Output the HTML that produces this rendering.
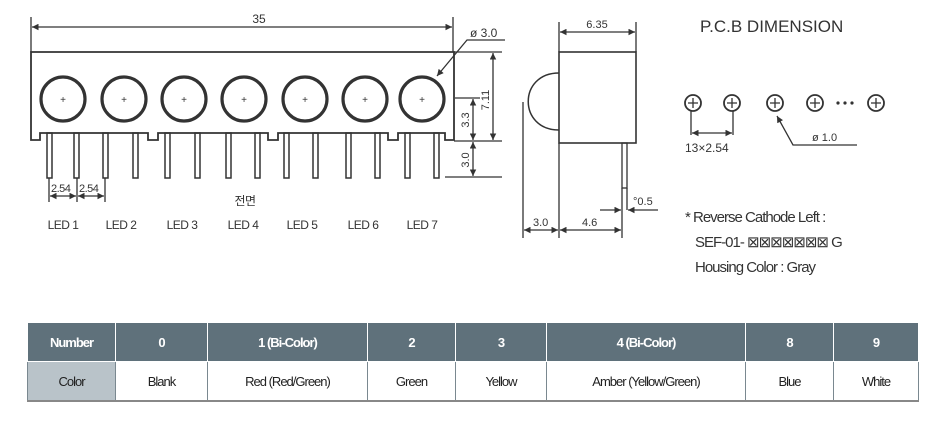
<!DOCTYPE html>
<html><head><meta charset="utf-8"><style>
body{margin:0;background:#fff;width:946px;height:423px;overflow:hidden;font-family:"Liberation Sans","Noto Sans CJK KR",sans-serif}
svg{position:absolute;left:0;top:0}
table{position:absolute;left:27px;top:322px;border-collapse:collapse;font-family:"Liberation Sans",sans-serif;font-size:13px;letter-spacing:-1px}
td{border:1px solid #fff;text-align:center;padding:0;height:38px}
tr.h td{background:#5f717b;color:#fff;border-color:#fff;font-weight:bold}
tr.r td{background:#fff;color:#222;border:1px solid #7a8890;border-bottom:2px solid #888}
tr.r td.c{background:#b9c3c9}
</style></head><body>
<svg width="946" height="423" viewBox="0 0 946 423" fill="none" stroke="#333" stroke-width="1.3" font-family="Liberation Sans, sans-serif">
<defs><marker id="a" viewBox="0 0 10 10" refX="10" refY="5" markerWidth="7" markerHeight="5" orient="auto-start-reverse"><path d="M0,0L10,5L0,10z" fill="#333" stroke="none"/></marker></defs>
<path d="M31,52H454V140H445V133H398V140H388V133H278V140H268V133H158V140H148V133H40V140H31Z" stroke-width="1.8"/>
<g stroke-width="3.2">
<circle cx="63" cy="99" r="22"/><circle cx="124" cy="99" r="22"/><circle cx="184" cy="99" r="22"/><circle cx="244" cy="99" r="22"/><circle cx="305" cy="99" r="22"/><circle cx="365" cy="99" r="22"/><circle cx="422" cy="99" r="22"/>
</g>
<g font-size="10" fill="#333" stroke="none" text-anchor="middle">
<text x="63" y="103">+</text><text x="124" y="103">+</text><text x="184" y="103">+</text><text x="244" y="103">+</text><text x="305" y="103">+</text><text x="365" y="103">+</text><text x="422" y="103">+</text>
</g>
<g stroke-width="1.5">
<rect x="47" y="133" width="5" height="45"/><rect x="74" y="133" width="5" height="45"/>
<rect x="103" y="133" width="5" height="45"/><rect x="133" y="133" width="5" height="45"/>
<rect x="165" y="133" width="5" height="45"/><rect x="195" y="133" width="5" height="45"/>
<rect x="226" y="133" width="5" height="45"/><rect x="255" y="133" width="5" height="45"/>
<rect x="284" y="133" width="5" height="45"/><rect x="313" y="133" width="5" height="45"/>
<rect x="346" y="133" width="5" height="45"/><rect x="375" y="133" width="5" height="45"/>
<rect x="405" y="133" width="5" height="45"/><rect x="434" y="133" width="5" height="45"/>
</g>
<line x1="31" y1="17" x2="31" y2="52"/><line x1="453" y1="17" x2="453" y2="52"/>
<line x1="32" y1="27" x2="452" y2="27" marker-start="url(#a)" marker-end="url(#a)"/>
<text x="259" y="23" font-size="12" fill="#333" stroke="none" text-anchor="middle">35</text>
<text x="470" y="37" font-size="12" fill="#333" stroke="none">ø 3.0</text>
<polyline points="505,40 467,40 437,76" marker-end="url(#a)"/>
<line x1="454" y1="52" x2="502" y2="52"/><line x1="454" y1="141" x2="502" y2="141"/>
<line x1="455" y1="98" x2="480" y2="98"/><line x1="445" y1="177" x2="502" y2="177"/>
<line x1="493" y1="53" x2="493" y2="140" marker-start="url(#a)" marker-end="url(#a)"/>
<line x1="473" y1="99" x2="473" y2="140" marker-start="url(#a)" marker-end="url(#a)"/>
<line x1="473" y1="142" x2="473" y2="176" marker-start="url(#a)" marker-end="url(#a)"/>
<g font-size="11" fill="#333" stroke="none">
<text transform="translate(489,100) rotate(-90)" text-anchor="middle">7.11</text>
<text transform="translate(469,120) rotate(-90)" text-anchor="middle">3.3</text>
<text transform="translate(469,160) rotate(-90)" text-anchor="middle">3.0</text>
</g>
<line x1="49" y1="178" x2="49" y2="202"/><line x1="77" y1="178" x2="77" y2="202"/><line x1="105" y1="178" x2="105" y2="202"/>
<line x1="50" y1="196" x2="76" y2="196" marker-start="url(#a)" marker-end="url(#a)"/>
<line x1="78" y1="196" x2="104" y2="196" marker-start="url(#a)" marker-end="url(#a)"/>
<g font-size="11" fill="#333" stroke="none" letter-spacing="-0.5">
<text x="51" y="192">2.54</text><text x="79" y="192">2.54</text>
<text x="245" y="205" font-size="12" text-anchor="middle">전면</text>
</g>
<g font-size="12" fill="#333" stroke="none" text-anchor="middle" letter-spacing="-0.5">
<text x="63" y="229">LED 1</text><text x="121" y="229">LED 2</text><text x="182" y="229">LED 3</text><text x="243" y="229">LED 4</text><text x="302" y="229">LED 5</text><text x="363" y="229">LED 6</text><text x="422" y="229">LED 7</text>
</g>
<rect x="559" y="52" width="77" height="91" stroke-width="1.6"/>
<path d="M559,73 C518,73 518,130 559,130" stroke-width="1.5"/>
<rect x="622" y="143" width="5" height="45"/>
<line x1="622" y1="188" x2="622" y2="238"/><line x1="627" y1="188" x2="627" y2="210"/>
<line x1="559" y1="22" x2="559" y2="52"/><line x1="636" y1="22" x2="636" y2="52"/>
<line x1="560" y1="32" x2="635" y2="32" marker-start="url(#a)" marker-end="url(#a)"/>
<text x="597" y="28" font-size="11" fill="#333" stroke="none" text-anchor="middle">6.35</text>
<line x1="523" y1="102" x2="523" y2="238"/><line x1="559" y1="143" x2="559" y2="238"/>
<line x1="524" y1="230" x2="558" y2="230" marker-start="url(#a)" marker-end="url(#a)"/>
<line x1="560" y1="230" x2="621" y2="230" marker-start="url(#a)" marker-end="url(#a)"/>
<line x1="600" y1="210" x2="621" y2="210" marker-end="url(#a)"/><line x1="658" y1="210" x2="628" y2="210" marker-end="url(#a)"/>
<g font-size="11" fill="#333" stroke="none">
<text x="533" y="226">3.0</text><text x="582" y="226">4.6</text><text x="633" y="205">°0.5</text>
</g>
<text x="700" y="32" font-size="17" fill="#333" stroke="none">P.C.B DIMENSION</text>
<g stroke-width="1.8">
<circle cx="693" cy="103" r="8"/><circle cx="732" cy="103" r="8"/><circle cx="775" cy="103" r="8"/><circle cx="815" cy="103" r="8"/><circle cx="876" cy="103" r="8"/>
</g>
<g stroke-width="1.3">
<path d="M688,103h10M693,98v10M727,103h10M732,98v10M770,103h10M775,98v10M810,103h10M815,98v10M871,103h10M876,98v10"/>
</g>
<g fill="#333" stroke="none"><circle cx="838" cy="103" r="1.6"/><circle cx="845" cy="103" r="1.6"/><circle cx="852" cy="103" r="1.6"/></g>
<line x1="691" y1="111" x2="691" y2="135"/><line x1="733" y1="111" x2="733" y2="135"/>
<line x1="692" y1="133" x2="732" y2="133" marker-start="url(#a)" marker-end="url(#a)"/>
<text x="685" y="152" font-size="12" fill="#333" stroke="none">13×2.54</text>
<polyline points="857,145 793,145 777,116" marker-end="url(#a)"/>
<text x="812" y="141" font-size="11" fill="#333" stroke="none">ø 1.0</text>
<g font-size="15" fill="#333" stroke="none" letter-spacing="-1">
<text x="685" y="222">* Reverse Cathode Left :</text>
<text x="695" y="247">SEF-01- ⊠⊠⊠⊠⊠⊠⊠ G</text>
<text x="695" y="272">Housing Color : Gray</text>
</g>
</svg>
<table>
<tr class="h"><td style="width:87px">Number</td><td style="width:91px">0</td><td style="width:159px">1 (Bi-Color)</td><td style="width:87px">2</td><td style="width:90px">3</td><td style="width:198px">4 (Bi-Color)</td><td style="width:87px">8</td><td style="width:84px">9</td></tr>
<tr class="r"><td class="c">Color</td><td>Blank</td><td>Red (Red/Green)</td><td>Green</td><td>Yellow</td><td>Amber (Yellow/Green)</td><td>Blue</td><td>White</td></tr>
</table>
</body></html>
